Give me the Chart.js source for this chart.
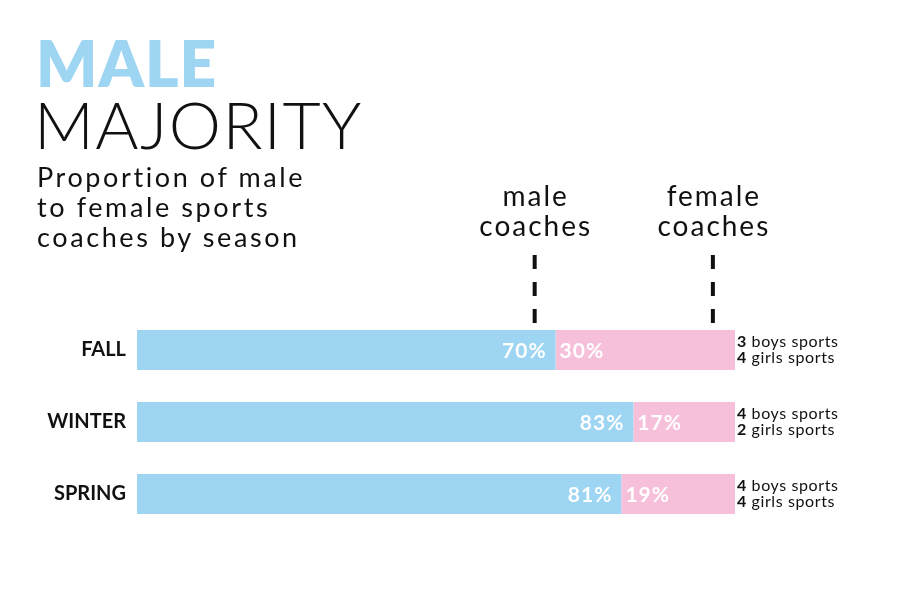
<!DOCTYPE html>
<html>
<head>
<meta charset="utf-8">
<script src="https://cdn.jsdelivr.net/npm/chart.js@4/dist/chart.umd.min.js"></script>
<style>
  html, body { margin: 0; padding: 0; background: #fff; }
  #wrap { position: relative; width: 900px; height: 600px; font-family: Lato, "Noto Sans", sans-serif; }
  #wrap canvas { position: absolute; left: 0; top: 0; }
  .t1 { position: absolute; left: 36px; top: 31px; font-size: 64px; font-weight: 800; color: #9dd5f3; line-height: 1; letter-spacing: 1px; }
  .t2 { position: absolute; left: 34px; top: 91px; font-size: 66px; font-weight: 300; color: #111; line-height: 1; letter-spacing: 1.4px; }
  .sub { position: absolute; left: 37px; top: 162px; font-size: 27px; color: #111; line-height: 30px; letter-spacing: 2.6px; }
</style>
</head>
<body>
<div id="wrap">
  <canvas id="chart" width="900" height="600"></canvas>
  <div class="t1">MALE</div>
  <div class="t2">MAJORITY</div>
  <div class="sub">Proportion of male<br>to female sports<br>coaches by season</div>
</div>
<script>
// seasons and share of coaches (percent)
const seasons = ['FALL', 'WINTER', 'SPRING'];
const maleShare = [70, 83, 81];
const femaleShare = [30, 17, 19];
const boysSports = [3, 4, 4];
const girlsSports = [4, 2, 4];

// column headers above the bars, placed on the percent scale
const headers = [
  { text: ['male', 'coaches'], at: 66.5 },
  { text: ['female', 'coaches'], at: 96.3 }
];

const blue = '#9dd5f3';
const pink = '#f7c0da';

const labelsPlugin = {
  id: 'labels',
  afterDatasetsDraw(chart) {
    const ctx = chart.ctx;
    const x = chart.scales.x;
    const area = chart.chartArea;
    ctx.save();

    // percentages inside the bars
    ctx.font = 'bold 21px Lato, "Noto Sans", sans-serif';
    ctx.letterSpacing = '1px';
    ctx.fillStyle = '#fff';
    ctx.textBaseline = 'middle';
    chart.getDatasetMeta(0).data.forEach((bar, i) => {
      ctx.textAlign = 'right';
      ctx.fillText(maleShare[i] + '%', bar.x - 9, bar.y + 1);
      ctx.textAlign = 'left';
      ctx.fillText(femaleShare[i] + '%', bar.x + 4, bar.y + 1);
    });

    // number of sports to the right
    ctx.letterSpacing = '0.6px';
    chart.getDatasetMeta(1).data.forEach((bar, i) => {
      const lines = [[boysSports[i], ' boys sports'], [girlsSports[i], ' girls sports']];
      lines.forEach((l, j) => {
        const y = bar.y - 8 + j * 16;
        ctx.textAlign = 'left';
        ctx.fillStyle = '#111';
        ctx.font = 'bold 16px Lato, "Noto Sans", sans-serif';
        ctx.fillText(String(l[0]), area.right + 2, y);
        const w = ctx.measureText(String(l[0])).width;
        ctx.font = '16px Lato, "Noto Sans", sans-serif';
        ctx.fillText(l[1], area.right + 2 + w, y);
      });
    });

    // headers with dashed leaders
    headers.forEach(h => {
      const px = x.getPixelForValue(h.at);
      ctx.font = '28px Lato, "Noto Sans", sans-serif';
      ctx.letterSpacing = '2px';
      ctx.fillStyle = '#111';
      ctx.textAlign = 'center';
      ctx.textBaseline = 'alphabetic';
      ctx.fillText(h.text[0], px + 1, 206);
      ctx.fillText(h.text[1], px + 1, 236);
      ctx.strokeStyle = '#111';
      ctx.lineWidth = 4;
      ctx.setLineDash([14, 13]);
      ctx.beginPath();
      ctx.moveTo(px, 255);
      ctx.lineTo(px, area.top + 12);
      ctx.stroke();
    });

    ctx.restore();
  }
};

new Chart(document.getElementById('chart'), {
  type: 'bar',
  data: {
    labels: seasons,
    datasets: [
      { label: 'male coaches', data: maleShare, backgroundColor: blue },
      { label: 'female coaches', data: femaleShare, backgroundColor: pink }
    ]
  },
  options: {
    indexAxis: 'y',
    responsive: false,
    animation: false,
    layout: { padding: { top: 314, bottom: 70, left: 0, right: 165 } },
    datasets: { bar: { barPercentage: 0.556, categoryPercentage: 1 } },
    scales: {
      x: { stacked: true, min: 0, max: 100, display: false },
      y: {
        stacked: true,
        afterFit(scale) { scale.width = 137; },
        grid: { display: false, drawTicks: false },
        border: { display: false },
        ticks: {
          padding: 11,
          color: '#111',
          font: { family: 'Lato, "Noto Sans", sans-serif', size: 20, weight: 'bold' }
        }
      }
    },
    plugins: {
      legend: { display: false },
      tooltip: { enabled: false }
    }
  },
  plugins: [labelsPlugin]
});
</script>
</body>
</html>
